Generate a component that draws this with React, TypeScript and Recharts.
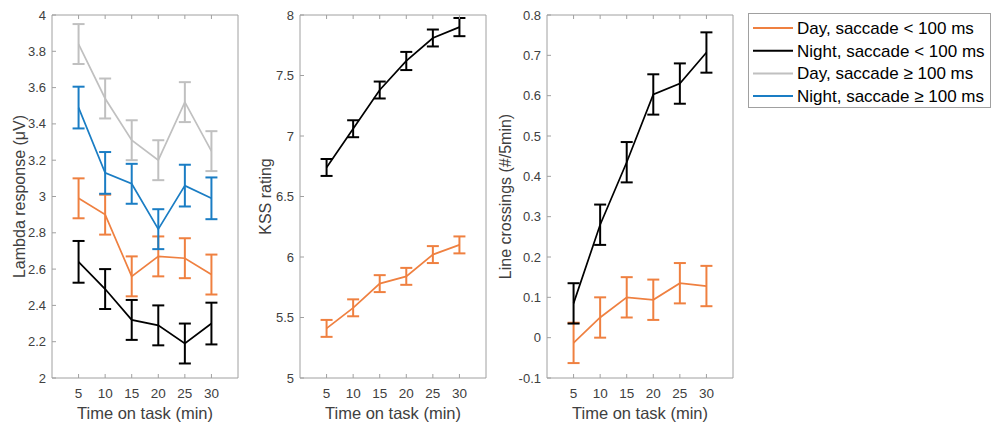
import { LineChart, Line, XAxis, YAxis, ErrorBar } from 'recharts'

const TIME = [5, 10, 15, 20, 25, 30]
const X_TICKS = [5, 10, 15, 20, 25, 30]

// lambda response (µV), mean and error per 5-min block
const LAMBDA_DAY_SHORT = [2.99, 2.90, 2.56, 2.67, 2.66, 2.57]
const LAMBDA_DAY_SHORT_ERR = [0.11, 0.11, 0.11, 0.11, 0.11, 0.11]
const LAMBDA_NIGHT_SHORT = [2.64, 2.49, 2.32, 2.29, 2.19, 2.30]
const LAMBDA_NIGHT_SHORT_ERR = [0.115, 0.11, 0.11, 0.11, 0.11, 0.115]
const LAMBDA_DAY_LONG = [3.84, 3.54, 3.31, 3.20, 3.52, 3.25]
const LAMBDA_DAY_LONG_ERR = [0.11, 0.11, 0.11, 0.11, 0.11, 0.11]
const LAMBDA_NIGHT_LONG = [3.49, 3.13, 3.07, 2.82, 3.06, 2.99]
const LAMBDA_NIGHT_LONG_ERR = [0.115, 0.115, 0.11, 0.11, 0.115, 0.115]
const LAMBDA_TICKS = [2, 2.2, 2.4, 2.6, 2.8, 3, 3.2, 3.4, 3.6, 3.8, 4]

// KSS sleepiness rating
const KSS_DAY = [5.41, 5.58, 5.78, 5.84, 6.02, 6.10]
const KSS_DAY_ERR = [0.07, 0.07, 0.07, 0.07, 0.07, 0.07]
const KSS_NIGHT = [6.74, 7.06, 7.38, 7.62, 7.81, 7.90]
const KSS_NIGHT_ERR = [0.07, 0.07, 0.07, 0.075, 0.07, 0.075]
const KSS_TICKS = [5, 5.5, 6, 6.5, 7, 7.5, 8]

// line crossings per 5 min
const CROSS_DAY = [-0.013, 0.05, 0.10, 0.094, 0.135, 0.128]
const CROSS_DAY_ERR = [0.05, 0.05, 0.05, 0.05, 0.05, 0.05]
const CROSS_NIGHT = [0.085, 0.28, 0.435, 0.603, 0.63, 0.707]
const CROSS_NIGHT_ERR = [0.05, 0.05, 0.05, 0.05, 0.05, 0.05]
const CROSS_TICKS = [-0.1, 0, 0.1, 0.2, 0.3, 0.4, 0.5, 0.6, 0.7, 0.8]

const ORANGE = '#ef8040'
const GRAY = '#c0c0c0'
const BLUE = '#1a7dc4'
const AXIS = '#a0a0a0'
const TEXT = '#404040'
const FONT = '"Liberation Sans", Arial, sans-serif'

const SERIES = [
  { key: 'dayShort', name: 'Day, saccade < 100 ms', color: ORANGE },
  { key: 'nightShort', name: 'Night, saccade < 100 ms', color: '#000000' },
  { key: 'dayLong', name: 'Day, saccade \u2265 100 ms', color: GRAY },
  { key: 'nightLong', name: 'Night, saccade \u2265 100 ms', color: BLUE },
]

function toRows(vals: Record<string, number[]>, errs: Record<string, number[]>) {
  return TIME.map((t, i) => {
    const row: any = { t }
    Object.keys(vals).forEach(k => {
      row[k] = vals[k][i]
      row[k + 'Err'] = errs[k][i]
    })
    return row
  })
}

const lambdaData = toRows(
  { dayShort: LAMBDA_DAY_SHORT, nightShort: LAMBDA_NIGHT_SHORT, dayLong: LAMBDA_DAY_LONG, nightLong: LAMBDA_NIGHT_LONG },
  { dayShort: LAMBDA_DAY_SHORT_ERR, nightShort: LAMBDA_NIGHT_SHORT_ERR, dayLong: LAMBDA_DAY_LONG_ERR, nightLong: LAMBDA_NIGHT_LONG_ERR },
)
const kssData = toRows({ dayShort: KSS_DAY, nightShort: KSS_NIGHT }, { dayShort: KSS_DAY_ERR, nightShort: KSS_NIGHT_ERR })
const crossData = toRows({ dayShort: CROSS_DAY, nightShort: CROSS_NIGHT }, { dayShort: CROSS_DAY_ERR, nightShort: CROSS_NIGHT_ERR })

const TICK_LEN = 4
const Y_GAP = 6
const X_GAP = 15

// matlab style: tick marks point into the box
const LeftTick = (p: any) => (
  <g>
    <line x1={p.x + Y_GAP} x2={p.x + Y_GAP + TICK_LEN} y1={p.y} y2={p.y} stroke={AXIS} />
    <text x={p.x} y={p.y} dy="0.35em" textAnchor="end" fill={TEXT} fontSize={13} fontFamily={FONT}>{p.payload.value}</text>
  </g>
)
const RightTick = (p: any) => <line x1={p.x} x2={p.x - TICK_LEN} y1={p.y} y2={p.y} stroke={AXIS} />
const BottomTick = (p: any) => (
  <g>
    <line x1={p.x} x2={p.x} y1={p.y - X_GAP} y2={p.y - X_GAP - TICK_LEN} stroke={AXIS} />
    <text x={p.x} y={p.y} dy="0.35em" textAnchor="middle" fill={TEXT} fontSize={13.5} fontFamily={FONT}>{p.payload.value}</text>
  </g>
)
const TopTick = (p: any) => <line x1={p.x} x2={p.x} y1={p.y} y2={p.y + TICK_LEN} stroke={AXIS} />

const YLabel = ({ viewBox, text, dx }: any) => {
  const cx = viewBox.x + dx
  const cy = viewBox.y + viewBox.height / 2
  return (
    <text x={cx} y={cy} transform={`rotate(-90, ${cx}, ${cy})`} textAnchor="middle" dy="0.35em" fill={TEXT} fontSize={16} fontFamily={FONT}>
      {text}
    </text>
  )
}
const XLabel = ({ viewBox }: any) => (
  <text x={viewBox.x + viewBox.width / 2} y={viewBox.y + 35} dy="0.35em" textAnchor="middle" fill={TEXT} fontSize={16.5} fontFamily={FONT}>
    Time on task (min)
  </text>
)

function Panel({ left, data, keys, domain, ticks, label, labelDx }: any) {
  const series = SERIES.filter(s => keys.includes(s.key))
  return (
    <div style={{ position: 'absolute', left, top: 0 }}>
      <LineChart width={245} height={423} data={data} margin={{ top: 14, right: 6, bottom: 44, left: 51 }}>
        <XAxis xAxisId="b" dataKey="t" type="number" domain={[0, 35]} ticks={X_TICKS} interval={0}
          height={1} tickSize={0} tickMargin={X_GAP} stroke={AXIS} tick={BottomTick} label={<XLabel />} />
        <XAxis xAxisId="t" orientation="top" dataKey="t" type="number" domain={[0, 35]} ticks={X_TICKS} interval={0}
          height={1} tickSize={0} tickMargin={0} stroke={AXIS} tick={TopTick} />
        <YAxis yAxisId="l" type="number" domain={domain} ticks={ticks} interval={0} width={1}
          tickSize={0} tickMargin={Y_GAP} stroke={AXIS} tick={LeftTick} label={<YLabel text={label} dx={labelDx} />} />
        <YAxis yAxisId="r" orientation="right" type="number" domain={domain} ticks={ticks} interval={0} width={1}
          tickSize={0} tickMargin={0} stroke={AXIS} tick={RightTick} />
        {series.map(s => (
          <Line key={s.key} xAxisId="b" yAxisId="l" dataKey={s.key} stroke={s.color} strokeWidth={1.7}
            dot={false} isAnimationActive={false}>
            <ErrorBar dataKey={s.key + 'Err'} width={6} stroke={s.color} strokeWidth={2} direction="y" />
          </Line>
        ))}
      </LineChart>
    </div>
  )
}

function LegendBox() {
  return (
    <svg width={244} height={96} style={{ position: 'absolute', left: 748, top: 13 }}>
      <rect x={0.5} y={0.5} width={242} height={94} fill="#fff" stroke={AXIS} />
      {SERIES.map((s, i) => {
        const y = 15 + i * 22.7
        return (
          <g key={s.key}>
            <line x1={5} x2={45} y1={y} y2={y} stroke={s.color} strokeWidth={2} />
            <text x={49} y={y} dy="0.35em" fill="#000" fontSize={17} fontFamily={FONT}>{s.name}</text>
          </g>
        )
      })}
    </svg>
  )
}

export default function App() {
  return (
    <div style={{ position: 'absolute', left: 0, top: 0, width: 992, height: 423, background: '#fff', fontFamily: FONT }}>
      <Panel left={0} data={lambdaData} keys={['dayShort', 'nightShort', 'dayLong', 'nightLong']}
        domain={[2, 4]} ticks={LAMBDA_TICKS} label={'Lambda response (\u03bcV)'} labelDx={-32} />
      <Panel left={248} data={kssData} keys={['dayShort', 'nightShort']}
        domain={[5, 8]} ticks={KSS_TICKS} label="KSS rating" labelDx={-34} />
      <Panel left={495} data={crossData} keys={['dayShort', 'nightShort']}
        domain={[-0.1, 0.8]} ticks={CROSS_TICKS} label="Line crossings (#/5min)" labelDx={-41} />
      <LegendBox />
    </div>
  )
}
